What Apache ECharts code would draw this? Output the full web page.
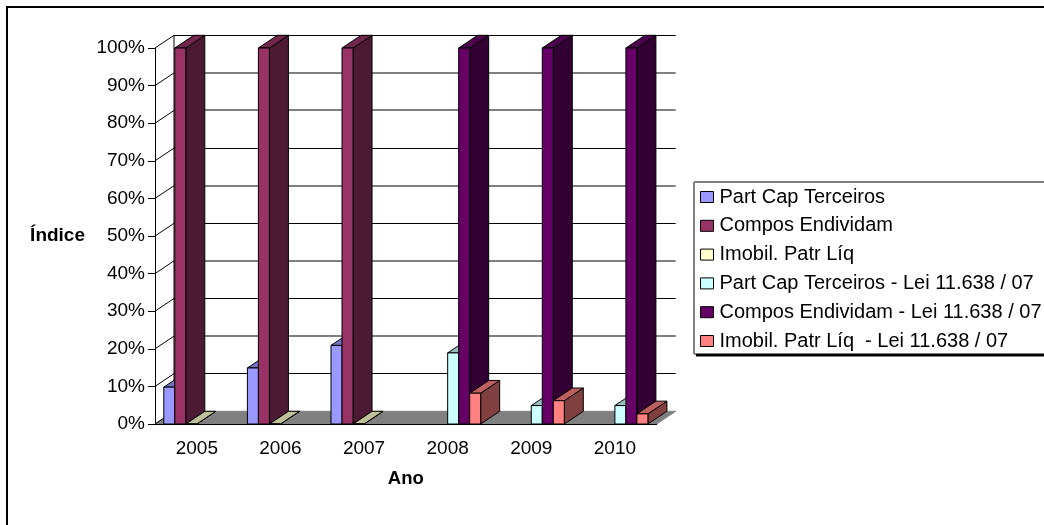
<!DOCTYPE html>
<html>
<head>
<meta charset="utf-8">
<title>Índice por ano</title>
<style>html,body{margin:0;padding:0;background:#fff}#chart{width:1044px;height:525px}</style>
<script src="https://cdn.jsdelivr.net/npm/echarts@6/dist/echarts.min.js"></script>
</head>
<body>
<div id="chart"></div>
<script>
const anos = ['2005', '2006', '2007', '2008', '2009', '2010'];
const marcas = [0, 10, 20, 30, 40, 50, 60, 70, 80, 90, 100];
// Wall gridlines drawn in the softer grey stroke.
const marcasCinza = [20, 40, 60, 80, 90];

const partCap = [9.8, 14.9, 20.9, null, null, null];
const composEnd = [100, 100, 100, null, null, null];
const imobil = [0, 0, 0, null, null, null];
const partCapLei = [null, null, null, 18.9, 4.9, 4.9];
const composEndLei = [null, null, null, 100, 100, 100];
const imobilLei = [null, null, null, 8.2, 6.2, 2.7];

const nomes = [
  'Part Cap Terceiros',
  'Compos Endividam',
  'Imobil. Patr Líq',
  'Part Cap Terceiros - Lei 11.638 / 07',
  'Compos Endividam - Lei 11.638 / 07',
  'Imobil. Patr Líq  - Lei 11.638 / 07'
];
const valores = [partCap, composEnd, imobil, partCapLei, composEndLei, imobilLei];
const cores = ['#9999FF', '#993366', '#FFFFCC', '#CCFFFF', '#660066', '#FF8080'];

// Oblique projection of the chart box: how far the back plane is shifted from the front.
const FUNDO_X = 19;
const FUNDO_Y = -12.7;
const GRUPOS = 6;
const LARGURA_GRUPO = 0.79; // share of each category band taken by the six slots

function escurecer(hex, f) {
  const n = parseInt(hex.slice(1), 16);
  const c = [(n >> 16) & 255, (n >> 8) & 255, n & 255].map(v => Math.round(v * f));
  return 'rgb(' + c.join(',') + ')';
}

// Walls and floor: one data row per tick on the value axis.
function desenharParedes(params, api) {
  const v = api.value(1);
  const yFrente = api.coord([0, v])[1];
  const cs = params.coordSys;
  const x0 = cs.x, x1 = cs.x + cs.width;
  const filhos = [];
  if (v === 0) {
    filhos.push({
      type: 'polygon',
      shape: { points: [[x0, yFrente], [x1, yFrente], [x1 + FUNDO_X, yFrente + FUNDO_Y], [x0 + FUNDO_X, yFrente + FUNDO_Y]] },
      style: { fill: '#808080', stroke: '#808080', lineWidth: 1 }
    });
    filhos.push({
      type: 'line',
      shape: { x1: x0 + FUNDO_X, y1: yFrente + FUNDO_Y, x2: x0 + FUNDO_X, y2: cs.y + FUNDO_Y },
      style: { stroke: '#000', lineWidth: 1 }
    });
  } else {
    const cinza = marcasCinza.indexOf(v) >= 0;
    const yFundo = cinza ? Math.round(yFrente + FUNDO_Y) : Math.floor(yFrente + FUNDO_Y) + 0.5;
    filhos.push({
      type: 'line',
      shape: { x1: x0 + FUNDO_X, y1: yFundo, x2: x1 + FUNDO_X, y2: yFundo },
      style: { stroke: cinza ? '#808080' : '#000', lineWidth: cinza ? 2 : 1 }
    });
  }
  filhos.push({
    type: 'line',
    shape: { x1: x0, y1: yFrente, x2: x0 + FUNDO_X, y2: yFrente + FUNDO_Y },
    style: { stroke: '#000', lineWidth: 1 }
  });
  return { type: 'group', children: filhos };
}

// One extruded bar: front, top and right-hand faces.
function barra3d(indice, cor) {
  return function (params, api) {
    const v = api.value(1);
    if (v === null || v === undefined || isNaN(v)) return null;
    const banda = api.size([1, 0])[0];
    const larg = banda * LARGURA_GRUPO / GRUPOS;
    const centro = api.coord([api.value(0), 0])[0];
    const y0 = api.coord([api.value(0), 0])[1];
    const y1 = api.coord([api.value(0), v])[1];
    const xa = centro + (indice - GRUPOS / 2) * larg;
    const xb = xa + larg;
    const traco = { stroke: '#000', lineWidth: 1, lineJoin: 'round' };
    return {
      type: 'group',
      children: [
        {
          type: 'polygon',
          shape: { points: [[xb, y0], [xb + FUNDO_X, y0 + FUNDO_Y], [xb + FUNDO_X, y1 + FUNDO_Y], [xb, y1]] },
          style: Object.assign({ fill: escurecer(cor, 0.5) }, traco)
        },
        {
          type: 'polygon',
          shape: { points: [[xa, y1], [xb, y1], [xb + FUNDO_X, y1 + FUNDO_Y], [xa + FUNDO_X, y1 + FUNDO_Y]] },
          style: Object.assign({ fill: escurecer(cor, 0.75) }, traco)
        },
        {
          type: 'rect',
          shape: { x: xa, y: y1, width: larg, height: y0 - y1 },
          style: Object.assign({ fill: cor }, traco)
        }
      ]
    };
  };
}

const fonte = 'Liberation Sans';
const chart = echarts.init(document.getElementById('chart'), null, { renderer: 'canvas' });

chart.setOption({
  animation: false,
  backgroundColor: '#fff',
  textStyle: { fontFamily: fonte },
  grid: { left: 155, top: 48, width: 501.7, height: 376, containLabel: false },
  graphic: [
    {
      type: 'polyline',
      shape: { points: [[7, 526], [7, 7], [1045, 7]] },
      style: { fill: null, stroke: '#000', lineWidth: 2 },
      silent: true
    },
    {
      // Drop shadow under the legend box
      type: 'line',
      shape: { x1: 696, y1: 355, x2: 1045, y2: 355 },
      style: { stroke: '#000', lineWidth: 3 },
      silent: true
    },
    {
      // Softer left edge of the legend box
      type: 'line',
      z: 100,
      shape: { x1: 694, y1: 182, x2: 694, y2: 354 },
      style: { stroke: '#808080', lineWidth: 2 },
      silent: true
    }
  ],
  legend: {
    data: nomes,
    orient: 'vertical',
    left: 694,
    top: 182,
    icon: 'rect',
    itemWidth: 13,
    itemHeight: 11,
    itemGap: 8.8,
    padding: [5, 12, 3, 6],
    backgroundColor: '#fff',
    borderColor: '#000',
    borderWidth: 1,
    selectedMode: false,
    textStyle: { fontFamily: fonte, fontSize: 20, color: '#000', lineHeight: 20, padding: [0, 0, 0, 1] },
    itemStyle: { borderColor: '#000', borderWidth: 1 }
  },
  xAxis: {
    type: 'category',
    data: anos,
    name: 'Ano',
    nameLocation: 'middle',
    nameGap: 45,
    nameTextStyle: { fontFamily: fonte, fontSize: 18.5, fontWeight: 'bold', color: '#000' },
    z: 3,
    axisLine: { show: true, lineStyle: { color: '#000', width: 1 } },
    axisTick: { show: false },
    splitLine: { show: false },
    axisLabel: { fontFamily: fonte, fontSize: 19, color: '#000', margin: 15, interval: 0 }
  },
  yAxis: {
    type: 'value',
    min: 0,
    max: 100,
    interval: 10,
    name: 'Índice',
    nameLocation: 'middle',
    nameRotate: 0,
    nameGap: 70,
    nameTextStyle: { fontFamily: fonte, fontSize: 19, fontWeight: 'bold', color: '#000' },
    axisLine: { show: true, lineStyle: { color: '#000', width: 1 } },
    axisTick: { show: true, inside: false, length: 7, lineStyle: { color: '#000', width: 1 } },
    splitLine: { show: false },
    axisLabel: { fontFamily: fonte, fontSize: 19, color: '#000', margin: 10, formatter: '{value}%' }
  },
  series: [{
    type: 'custom',
    name: 'Paredes',
    silent: true,
    clip: false,
    z: 1,
    encode: { x: 0, y: 1 },
    data: marcas.map(m => [0, m]),
    renderItem: desenharParedes
  }].concat(nomes.map((nome, i) => ({
    type: 'custom',
    name: nome,
    clip: false,
    z: 2,
    itemStyle: { color: cores[i], borderColor: '#000', borderWidth: 1 },
    encode: { x: 0, y: 1 },
    data: valores[i].map((v, k) => [k, v]),
    renderItem: barra3d(i, cores[i])
  })))
});
</script>
</body>
</html>
